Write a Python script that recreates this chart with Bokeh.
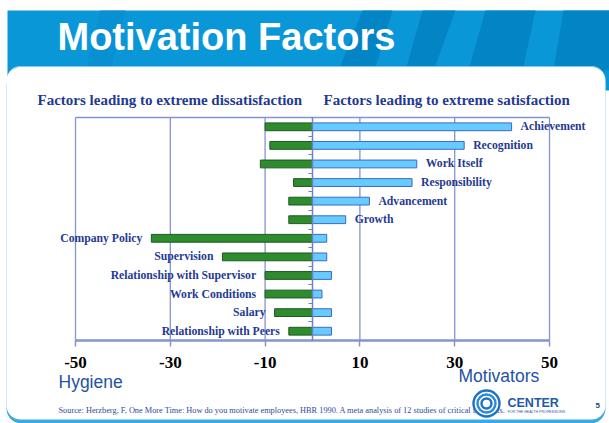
import numpy as np
from bokeh.plotting import figure
from bokeh.models import Range1d, FixedTicker, LinearAxis, ColumnDataSource
from bokeh.core.properties import value
from bokeh.embed import file_html
from bokeh.resources import INLINE

# ---------------- data ----------------
motivators = ["Achievement", "Recognition", "Work Itself", "Responsibility",
              "Advancement", "Growth"]
hygiene = ["Company Policy", "Supervision", "Relationship with Supervisor",
           "Work Conditions", "Salary", "Relationship with Peers"]
factors = motivators + hygiene
dissatisfaction = [-10, -9, -11, -4, -5, -5, -34, -19, -10, -10, -8, -5]
satisfaction = [42, 32, 22, 21, 12, 7, 3, 3, 4, 2, 4, 4]
x_ticks = [-50, -30, -10, 10, 30, 50]
x_min, x_max = -50, 50

title_text = "Motivation Factors"
left_heading = "Factors leading to extreme dissatisfaction"
right_heading = "Factors leading to extreme satisfaction"
source_text = ("Source: Herzberg, F, One More Time: How do you motivate employees, "
               "HBR 1990. A meta analysis of 12 studies of critical incidents.")

# ---------------- geometry (page pixels) ----------------
W, H = 609, 423
PX0, PX1 = 75, 549      # plot area left/right
PY0, PY1 = 117, 340     # plot area top/bottom
n = len(factors)


def dx(X):
    return x_min + (X - PX0) * (x_max - x_min) / (PX1 - PX0)


def dy(Y):
    return -0.5 + (Y - PY0) * n / (PY1 - PY0)


def rrect(x0, y0, x1, y1, r, k=10):
    xs, ys = [], []
    for cx, cy, a0 in ((x0 + r, y0 + r, 180), (x1 - r, y0 + r, 270),
                       (x1 - r, y1 - r, 0), (x0 + r, y1 - r, 90)):
        a = np.radians(np.linspace(a0, a0 + 90, k))
        xs += list(cx + r * np.cos(a))
        ys += list(cy + r * np.sin(a))
    return xs, ys


p = figure(width=W, height=H, x_range=Range1d(dx(0), dx(W)),
           y_range=Range1d(dy(H), dy(0)), output_backend="svg",
           toolbar_location=None, title=None, x_axis_location=None,
           y_axis_location=None, min_border=0)
p.min_border_left = p.min_border_right = p.min_border_top = p.min_border_bottom = 0
p.background_fill_color = "white"
p.border_fill_color = "white"
p.outline_line_color = None
p.grid.visible = False

GRID = "#8593D2"
NAVY = "#1F3A93"
BANNER = "#0A97D8"
DARK = "#0284C5"

# ---------------- slide decoration ----------------
p.quad(left=dx(7), right=dx(W), top=dy(10), bottom=dy(90),
       fill_color=BANNER, line_color=None)
stripes = [((362, 392), (338, 374)), ((422, 455), (405, 433)),
           ((485, 535), (468, 522)), ((563, 620), (553, 620))]
for (t0, t1), (b0, b1) in stripes:
    p.patch([dx(t0), dx(t1), dx(b1), dx(b0)], [dy(10), dy(10), dy(70), dy(70)],
            fill_color=DARK, line_color=None)
p.patch([dx(100), dx(125), dx(110), dx(85)], [dy(10), dy(10), dy(70), dy(70)],
        fill_color="#0890D2", line_color=None)

sx, sy = rrect(6, 70, 605, 423, 15)
p.patch([dx(v) for v in sx], [dy(v) for v in sy], fill_color="#3AAAE6",
        line_color=None)
wx, wy = rrect(6, 66, 605, 419, 14)
p.patch([dx(v) for v in wx], [dy(v) for v in wy], fill_color="white",
        line_color=None)
top = [i for i, v in enumerate(wy) if v < 70]
p.line([dx(wx[i]) for i in top], [dy(wy[i]) for i in top],
       line_color="#7CCBF0", line_width=1.2)

p.text(x=[dx(57)], y=[dy(36.5)], text=[title_text], text_color="white",
       text_font=value("Liberation Sans"), text_font_style="bold",
       text_font_size=value("38px"), text_baseline="middle")

# ---------------- chart ----------------
p.segment(x0=x_ticks, x1=x_ticks, y0=[-0.5] * len(x_ticks),
          y1=[n - 0.5] * len(x_ticks), line_color=GRID, line_width=1.3)
p.segment(x0=[x_min], x1=[x_max], y0=[-0.5], y1=[-0.5], line_color=GRID,
          line_width=1.3)

src = ColumnDataSource(dict(factor=factors, y=list(range(n)),
                            neg=dissatisfaction, pos=satisfaction))
p.hbar(y="y", left="neg", right=0, height=0.42, source=src,
       fill_color="#2E8B2E", line_color="#1E5A22", line_width=1)
p.hbar(y="y", left=0, right="pos", height=0.42, source=src,
       fill_color="#66CCFF", line_color="#3C68C8", line_width=1)

xa = LinearAxis(fixed_location=n - 0.5, bounds=(x_min, x_max),
                ticker=FixedTicker(ticks=x_ticks),
                major_label_overrides={t: str(t) for t in x_ticks},
                axis_line_color=GRID, axis_line_width=2.5,
                major_tick_line_color=GRID, major_tick_line_width=1.5,
                major_tick_out=6, major_tick_in=0, minor_tick_line_color=None,
                major_label_text_font="Liberation Serif",
                major_label_text_font_style="bold",
                major_label_text_font_size="17px",
                major_label_text_color="black", major_label_standoff=10)
p.add_layout(xa, "below")

ya = LinearAxis(fixed_location=0, bounds=(-0.5, n - 0.5),
                ticker=FixedTicker(ticks=[i + 0.5 for i in range(n - 1)]),
                axis_line_color="#6E7FC8", axis_line_width=1.5,
                major_tick_line_color="#6E7FC8", major_tick_out=4,
                major_tick_in=0, minor_tick_line_color=None,
                major_label_text_font_size="1px", major_label_text_alpha=0)
p.add_layout(ya, "left")

nm = len(motivators)
mot_src = ColumnDataSource(dict(x=satisfaction[:nm], y=list(range(nm)),
                                text=motivators))
hyg_src = ColumnDataSource(dict(x=dissatisfaction[nm:],
                                y=list(range(nm, n)), text=hygiene))
common = dict(text_font=value("Liberation Serif"), text_font_style="bold",
              text_font_size=value("11.7px"), text_color=NAVY,
              text_baseline="middle")
p.text(x="x", y="y", text="text", source=mot_src, x_offset=9,
       text_align="left", **common)
p.text(x="x", y="y", text="text", source=hyg_src, x_offset=-9,
       text_align="right", **common)

# ---------------- texts ----------------
p.text(x=[dx(37), dx(323)], y=[dy(99.5), dy(99.5)],
       text=[left_heading, right_heading], text_color=NAVY,
       text_font=value("Liberation Serif"), text_font_style="bold",
       text_font_size=value("15px"), text_baseline="middle")

SIDE = "#2352A5"
p.text(x=[dx(58), dx(458)], y=[dy(381), dy(375)], text=["Hygiene", "Motivators"],
       text_color=SIDE, text_font=value("Liberation Sans"),
       text_font_size=value("17.5px"), text_baseline="middle")

p.text(x=[dx(58)], y=[dy(410)], text=[source_text], text_color="#2E4A9E",
       text_font=value("Liberation Serif"), text_font_size=value("8.3px"),
       text_baseline="middle")

# logo
p.scatter(x=[dx(486)], y=[dy(403)], size=[27], marker="circle",
          fill_color="white", line_color=None)
p.scatter(x=[dx(486)] * 3, y=[dy(403)] * 3, size=[26, 18, 10], marker="circle",
          fill_color=None, line_color=["#1E73C4", "#2A8AD6", "#1E73C4"],
          line_width=2.4)
p.text(x=[dx(507)], y=[dy(402.5)], text=["CENTER"], text_color="#1F5AA6",
       text_font=value("Liberation Sans"), text_font_style="bold",
       text_font_size=value("12.5px"), text_baseline="middle")
p.text(x=[dx(507)], y=[dy(411)], text=["FOR THE HEALTH PROFESSIONS"],
       text_color="#1F5AA6", text_font=value("Liberation Sans"),
       text_font_size=value("3.6px"), text_baseline="middle")
p.text(x=[dx(595)], y=[dy(405)], text=["5"], text_color="#1F4E79",
       text_font=value("Liberation Sans"), text_font_style="bold",
       text_font_size=value("8px"), text_baseline="middle")

open("out.html", "w").write(file_html(p, INLINE))
